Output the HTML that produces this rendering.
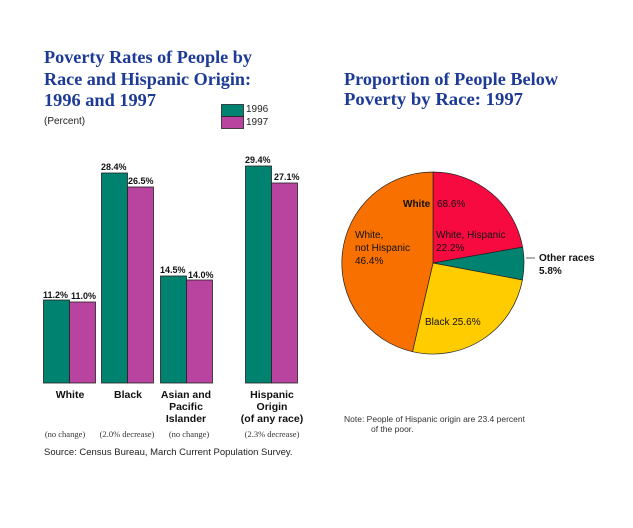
<!DOCTYPE html>
<html><head><style>body{margin:0;background:#fff}svg{display:block}</style></head><body>
<svg width="633" height="528" viewBox="0 0 633 528" xmlns="http://www.w3.org/2000/svg">
<g font-family="Liberation Serif, serif" font-weight="bold" font-size="18" fill="#1c3a96">
<text x="44" y="63" textLength="208" lengthAdjust="spacingAndGlyphs">Poverty Rates of People by</text>
<text x="44" y="85" textLength="207" lengthAdjust="spacingAndGlyphs">Race and Hispanic Origin:</text>
<text x="44" y="106" textLength="112" lengthAdjust="spacingAndGlyphs">1996 and 1997</text>
<text x="344" y="85" textLength="214" lengthAdjust="spacingAndGlyphs">Proportion of People Below</text>
<text x="344" y="105" textLength="179" lengthAdjust="spacingAndGlyphs">Poverty by Race:  1997</text>
</g>
<g font-family="Liberation Sans, sans-serif" font-size="10" fill="#222">
<text x="44" y="124">(Percent)</text>
<text x="246" y="112">1996</text>
<text x="246" y="125">1997</text>
</g>
<rect x="221.5" y="104.5" width="22" height="12" fill="#008270" stroke="#222" stroke-width="0.8"/>
<rect x="221.5" y="116.5" width="22" height="12" fill="#b9449f" stroke="#222" stroke-width="0.8"/>
<g stroke="#222" stroke-width="0.8">
<rect x="43.5" y="300" width="26" height="83" fill="#008270"/>
<rect x="69.5" y="302" width="26" height="81" fill="#b9449f"/>
<rect x="101.5" y="173" width="26" height="210" fill="#008270"/>
<rect x="127.5" y="187" width="26" height="196" fill="#b9449f"/>
<rect x="160.5" y="276" width="26" height="107" fill="#008270"/>
<rect x="186.5" y="280" width="26" height="103" fill="#b9449f"/>
<rect x="245.5" y="166" width="26" height="217" fill="#008270"/>
<rect x="271.5" y="183" width="26" height="200" fill="#b9449f"/>
</g>
<g font-family="Liberation Sans, sans-serif" font-size="9" font-weight="bold" fill="#111">
<text x="43" y="298">11.2%</text><text x="71" y="299">11.0%</text>
<text x="101" y="170">28.4%</text><text x="128" y="184">26.5%</text>
<text x="160" y="273">14.5%</text><text x="188" y="278">14.0%</text>
<text x="245" y="163">29.4%</text><text x="274" y="180">27.1%</text>
</g>
<g font-family="Liberation Sans, sans-serif" font-size="10.5" font-weight="bold" fill="#111" text-anchor="middle">
<text x="70" y="398">White</text>
<text x="128" y="398">Black</text>
<text x="186" y="398">Asian and</text><text x="186" y="410">Pacific</text><text x="186" y="422">Islander</text>
<text x="272" y="398">Hispanic</text><text x="272" y="410">Origin</text><text x="272" y="422">(of any race)</text>
</g>
<g font-family="Liberation Serif, serif" font-size="8.5" fill="#333" text-anchor="middle">
<text x="65" y="437">(no change)</text>
<text x="127" y="437">(2.0% decrease)</text>
<text x="189" y="437">(no change)</text>
<text x="272" y="437">(2.3% decrease)</text>
</g>
<text x="44" y="455" font-family="Liberation Sans, sans-serif" font-size="9.5" fill="#222">Source:  Census Bureau, March Current Population Survey.</text>
<g stroke="#222" stroke-width="0.7">
<path d="M433,263 L433,172 A91,91 0 0 1 522.6,247.1 Z" fill="#f70a40"/>
<path d="M433,263 L522.6,247.1 A91,91 0 0 1 522.4,280 Z" fill="#008270"/>
<path d="M433,263 L522.4,280 A91,91 0 0 1 412.5,351.7 Z" fill="#ffcc00"/>
<path d="M433,263 L412.5,351.7 A91,91 0 0 1 433,172 Z" fill="#f77000"/>
<line x1="526" y1="258" x2="535" y2="258"/>
</g>
<g font-family="Liberation Sans, sans-serif" font-size="10" fill="#111">
<text x="403" y="207" font-weight="bold">White</text>
<text x="437" y="207">68.6%</text>
<text x="436" y="238">White, Hispanic</text><text x="436" y="251">22.2%</text>
<text x="355" y="238">White,</text><text x="355" y="251">not Hispanic</text><text x="355" y="264">46.4%</text>
<text x="539" y="261" font-weight="bold">Other races</text><text x="539" y="274" font-weight="bold">5.8%</text>
<text x="425" y="325">Black  25.6%</text>
</g>
<g font-family="Liberation Sans, sans-serif" font-size="8.5" fill="#333">
<text x="344" y="422">Note:  People of Hispanic origin are 23.4 percent</text>
<text x="371" y="432">of the poor.</text>
</g>
</svg>
</body></html>
